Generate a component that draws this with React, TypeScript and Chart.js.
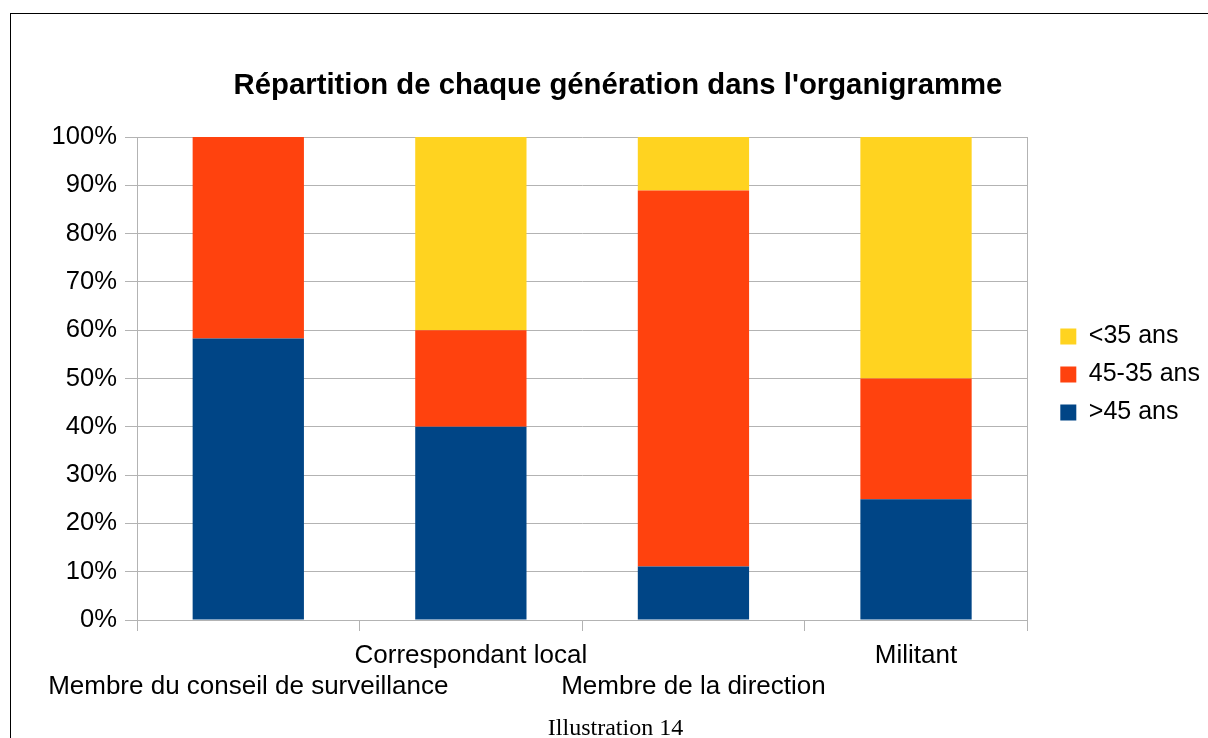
import React, { useEffect, useRef } from "react";
import { Chart, registerables } from "chart.js";

Chart.register(...registerables);

const categories: (string | string[])[] = [
  ["", "Membre du conseil de surveillance"],
  "Correspondant local",
  ["", "Membre de la direction"],
  "Militant",
];
const seriesNames = [">45 ans", "45-35 ans", "<35 ans"];
const over45 = [58.3, 40, 11.1, 25];
const from35to45 = [41.7, 20, 77.8, 25];
const under35 = [0, 40, 11.1, 50];
const seriesColors = ["#004586", "#ff420e", "#ffd320"];
const titleText = "Répartition de chaque génération dans l'organigramme";
const captionText = "Illustration 14";

const CW = 1210;
const CH = 749;
const FONT = "'Liberation Sans', Arial, sans-serif";
const GRID = "#b3b3b3";

export default function App() {
  const ref = useRef<HTMLCanvasElement | null>(null);

  useEffect(() => {
    if (!ref.current) return;
    const chart = new Chart(ref.current, {
      type: "bar",
      data: {
        labels: categories,
        datasets: [over45, from35to45, under35].map((d, i) => ({
          label: seriesNames[i],
          data: d,
          backgroundColor: seriesColors[i],
          borderWidth: 0,
          categoryPercentage: 1,
          barPercentage: 0.5,
        })),
      },
      options: {
        responsive: false,
        animation: false,
        devicePixelRatio: 1,
        layout: { padding: { left: 26, right: 0, top: 0, bottom: 0 } },
        plugins: {
          title: {
            display: true,
            text: titleText,
            color: "#000",
            font: { family: FONT, size: 29.3, weight: "bold", lineHeight: 1.2 },
            padding: { top: 68, bottom: 33.84 },
          },
          legend: {
            display: true,
            position: "right",
            reverse: true,
            labels: {
              color: "#000",
              font: { family: FONT, size: 25 },
              boxWidth: 16,
              boxHeight: 16,
              padding: 13,
            },
          },
          tooltip: { enabled: false },
        },
        scales: {
          x: {
            stacked: true,
            offset: true,
            grid: {
              display: true,
              drawOnChartArea: false,
              drawTicks: true,
              tickLength: 11,
              color: GRID,
              offset: true,
            },
            border: { display: true, color: GRID },
            ticks: {
              color: "#000",
              font: { family: FONT, size: 26, lineHeight: 1.175 },
              padding: 10,
              autoSkip: false,
              maxRotation: 0,
              minRotation: 0,
            },
            afterFit: (s: any) => {
              s.height = CH - 620;
            },
          },
          y: {
            stacked: true,
            min: 0,
            max: 100,
            grid: { color: GRID, tickLength: 12 },
            border: { display: true, color: GRID },
            ticks: {
              stepSize: 10,
              color: "#000",
              font: { family: FONT, size: 25.6 },
              padding: 8,
              callback: (v: any) => v + "%",
            },
            afterFit: (s: any) => {
              s.width = 111;
            },
          },
          y2: {
            type: "linear",
            position: "right",
            display: true,
            grid: { drawOnChartArea: false, drawTicks: false },
            border: { display: true, color: GRID },
            ticks: { display: false },
            afterFit: (s: any) => {
              s.width = 20;
            },
          },
        },
      } as any,
    });
    return () => chart.destroy();
  }, []);

  return (
    <div
      style={{
        position: "absolute",
        left: 0,
        top: 0,
        width: 1208,
        height: 738,
        overflow: "hidden",
        background: "#fff",
      }}
    >
      <div
        style={{
          position: "absolute",
          left: 10,
          top: 13,
          width: 1300,
          height: 800,
          border: "1px solid #000",
        }}
      />
      <canvas
        ref={ref}
        width={CW}
        height={CH}
        style={{ position: "absolute", left: 0, top: 0, width: CW, height: CH }}
      />
      <div
        style={{
          position: "absolute",
          left: 615.5,
          top: 715,
          transform: "translateX(-50%)",
          whiteSpace: "nowrap",
          fontFamily: "'Liberation Serif', 'Times New Roman', serif",
          fontSize: 24,
          lineHeight: "24px",
          color: "#000",
        }}
      >
        {captionText}
      </div>
    </div>
  );
}
